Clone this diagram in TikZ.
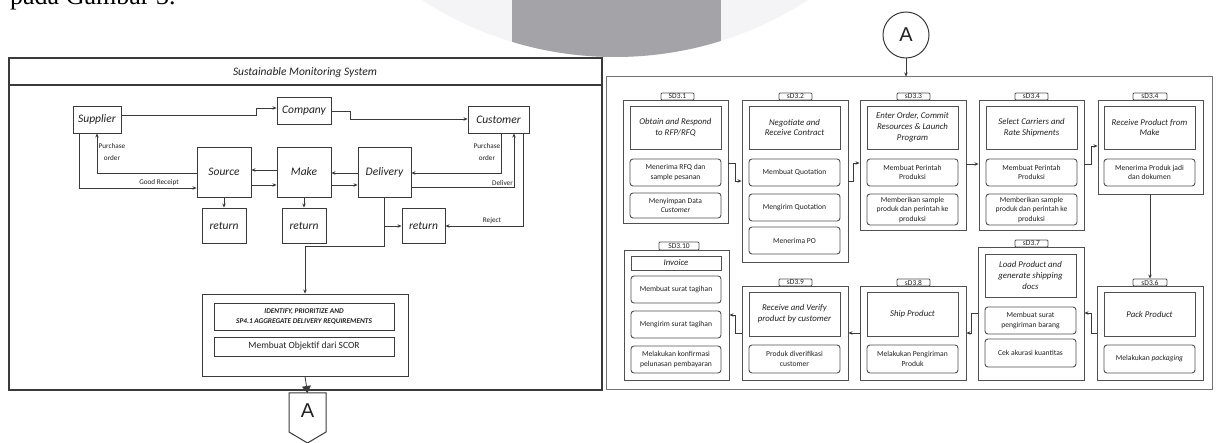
\documentclass[tikz,border=0pt]{standalone}
\usepackage{fontspec}
\setmainfont{Carlito}
\newfontfamily\serifA{Liberation Serif}
\newfontfamily\sansA{Liberation Sans}
\usetikzlibrary{arrows.meta}
\definecolor{lc}{HTML}{3A3A3A}
\definecolor{lc2}{HTML}{505050}
\definecolor{tc}{HTML}{222222}
\definecolor{wmA}{HTML}{F4F4F6}
\definecolor{wmB}{HTML}{A3A3A8}
\newcommand\bx[7]{\node[#6, minimum width={(#4-#2)*1pt}, minimum height={(#5-#3)*1pt}] (#1) at ({(#2+#4)/2},{(#3+#5)/2}) {#7};}
\begin{document}
\begin{tikzpicture}[x=1pt,y=-1pt,
  frame/.style={draw=lc, line width=1.1pt, inner sep=0pt},
  rframe/.style={draw=lc2!80, line width=1pt, inner sep=0pt},
  mbox/.style={draw=lc, line width=0.9pt, fill=white, inner sep=1pt, text=tc, font=\fontsize{11.5}{13}\selectfont\itshape},
  plainbox/.style={draw=lc, line width=0.9pt, inner sep=0pt},
  ibox/.style={draw=lc, line width=0.9pt, inner sep=1pt, text=tc, align=center, font=\fontsize{7.3}{9.5}\selectfont\bfseries\itshape},
  ibox2/.style={draw=lc, line width=0.9pt, inner sep=1pt, text=tc, font=\fontsize{9.5}{10}\selectfont},
  lab/.style={font=\fontsize{7.2}{11.5}\selectfont, text=tc, inner sep=0pt, align=center},
  conn/.style={draw=lc, line width=0.8pt},
  arr/.style={conn, -{Stealth[length=4pt,width=3.5pt]}},
  grp/.style={draw=lc2, line width=0.9pt, fill=white, inner sep=0pt},
  ttl/.style={draw=lc2, line width=0.9pt, inner sep=1pt, text=tc, align=center, font=\fontsize{8.8}{10.8}\selectfont\itshape},
  sub/.style={draw=lc2, line width=0.9pt, rounded corners=3pt, inner sep=1pt, text=tc, align=center, font=\fontsize{7.6}{9.5}\selectfont},
  tabl/.style={draw=lc2, line width=0.8pt, rounded corners=1pt, fill=white, inner sep=0pt, text=tc, font=\fontsize{7.5}{7}\selectfont},
  bigletter/.style={text=tc, inner sep=0pt, font=\sansA\fontsize{20}{20}\selectfont}]

\useasboundingbox (0,0) rectangle (1216,443);
\clip (0,0) rectangle (1216,443);
\fill[white] (0,0) rectangle (1216,443);

% watermark
\begin{scope}
  \fill[wmA] (615,-298) circle[radius=355];
  \clip (615,-298) circle[radius=355];
  \fill[wmB] (512,-5) rectangle (721,70);
\end{scope}

\node[anchor=base west, inner sep=0pt, font=\serifA\fontsize{26}{26}\selectfont] (topt) at (10,4.5) {pada Gambar 3.};

% ================= LEFT PANEL =================
\bx{lp}{9}{58}{602}{390}{frame}{}
\draw[lc, line width=1.6pt] (lp.west |- 0,85) -- (lp.east |- 0,85);
\node[text=tc, font=\fontsize{11.5}{13}\selectfont\itshape] (ttl) at (305,72) {Sustainable Monitoring System};

\bx{sup}{73}{106}{121}{133}{mbox}{Supplier}
\bx{com}{277}{97}{331}{124}{mbox}{Company}
\bx{cus}{468}{106}{529}{133}{mbox}{Customer}
\bx{src}{197}{147}{251}{197}{mbox}{Source}
\bx{mak}{277}{147}{331}{197}{mbox}{Make}
\bx{del}{358}{147}{411}{197}{mbox}{Delivery}
\bx{ra}{202}{208}{246}{243}{mbox}{return}
\bx{rb}{282}{208}{326}{243}{mbox}{return}
\bx{rc}{402}{208}{445}{243}{mbox}{return}

\draw[arr] (sup.east |- 0,115) -- ++(135,0) |- (com.west |- 0,108);
\draw[arr] (com.east |- 0,111) -- ++(19,0) |- (cus.west |- 0,119);
\draw[arr] (src.west |- 0,173) -| (sup.south -| 97,0);
\node[lab] (po1) at (112,152) {Purchase\\order};
\draw[arr] (sup.south -| 79,0) |- (src.west |- 0,188);
\node[lab] (gr) at (159,183) {Good Receipt};
\draw[arr] (mak.west |- 0,170) -- (src.east |- 0,170);
\draw[arr] (src.east |- 0,185) -- (mak.west |- 0,185);
\draw[arr] (del.west |- 0,173) -- (mak.east |- 0,173);
\draw[arr] (mak.east |- 0,185) -- (del.west |- 0,185);
\draw[arr] (cus.south -| 501,0) |- (del.east |- 0,173);
\node[lab] (po2) at (487,152) {Purchase\\order};
\draw[arr] (del.east |- 0,187) -| (cus.south -| 514,0);
\node[lab, anchor=south east] (dlv) at (513,186) {Deliver};
\draw[arr] (cus.south -| 523,0) |- (rc.east |- 0,226);
\node[lab] (rej) at (492,221) {Reject};
\draw[arr] (src.south -| 224,0) -- (ra.north -| 224,0);
\draw[arr] (mak.south -| 304,0) -- (rb.north -| 304,0);
\draw[arr] (del.south -| 384,0) |- (rc.west |- 0,226);

\bx{idf}{202}{294}{408}{376}{plainbox}{}
\bx{idfa}{214}{303}{394}{330}{ibox}{IDENTIFY, PRIORITIZE AND\\SP4.1 AGGREGATE DELIVERY REQUIREMENTS}
\bx{idfb}{214}{337}{394}{356}{ibox2}{Membuat Objektif dari SCOR}
\draw[arr] (del.south -| 384,0) -- (384,246) -| (idf.north);

\node[bigletter] (offA) at (307.5,411) {A};
\draw[lc, line width=1pt, line join=miter] (289,393) -- (289,432) -- (307.5,443) -- (326,432) -- (326,393) -- cycle;
\draw[conn, -{Triangle[length=7pt,width=9pt]}] (idf.south) -- (offA.center |- 0,393);

% ================= RIGHT PANEL =================
\bx{rp}{606}{77}{1212}{390}{rframe}{}
\node[circle, draw=lc, line width=1pt, minimum size=46pt, bigletter] (cA) at (906,35) {A};
\draw[arr] (cA.south) -- (rp.north -| cA.south);

% SD3.1
\bx{g1}{623}{100}{728}{223}{grp}{}
\bx{t1}{661}{93}{694}{100}{tabl}{SD3.1}
\bx{h1}{630}{106}{721}{149}{ttl}{Obtain and Respond\\to RFP/RFQ}
\bx{s1a}{630}{159}{721}{186}{sub}{Menerima RFQ dan\\sample pesanan}
\bx{s1b}{630}{193}{721}{218}{sub}{Menyimpan Data\\\textit{Customer}}
% sD3.2
\bx{g2}{742}{100}{848}{262}{grp}{}
\bx{t2}{779}{93}{812}{100}{tabl}{sD3.2}
\bx{h2}{749}{106}{840}{149}{ttl}{Negotiate and\\Receive Contract}
\bx{s2a}{749}{159}{840}{186}{sub}{Membuat Quotation}
\bx{s2b}{749}{194}{840}{221}{sub}{Mengirim Quotation}
\bx{s2c}{749}{227}{840}{254}{sub}{Menerima PO}
% sD3.3
\bx{g3}{860}{100}{966}{230}{grp}{}
\bx{t3}{897}{93}{930}{100}{tabl}{sD3.3}
\bx{h3}{867}{106}{958}{149}{ttl}{Enter Order, Commit\\Resources \& Launch\\Program}
\bx{s3a}{867}{159}{958}{186}{sub}{Membuat Perintah\\Produksi}
\bx{s3b}{867}{194}{958}{225}{sub}{Memberikan sample\\produk dan perintah ke\\produksi}
% sD3.4
\bx{g4}{979}{100}{1084}{230}{grp}{}
\bx{t4}{1015}{93}{1048}{100}{tabl}{sD3.4}
\bx{h4}{986}{106}{1077}{149}{ttl}{Select Carriers and\\Rate Shipments}
\bx{s4a}{986}{159}{1077}{186}{sub}{Membuat Perintah\\Produksi}
\bx{s4b}{986}{194}{1077}{225}{sub}{Memberikan sample\\produk dan perintah ke\\produksi}
% sD3.4 (b)
\bx{g5}{1098}{100}{1203}{194}{grp}{}
\bx{t5}{1133}{93}{1167}{100}{tabl}{sD3.4}
\bx{h5}{1104}{106}{1195}{149}{ttl}{Receive Product from\\Make}
\bx{s5a}{1104}{159}{1195}{186}{sub}{Menerima Produk jadi\\dan dokumen}
% SD3.10
\bx{g10}{624}{250}{729}{380}{grp}{}
\bx{t10}{659}{242}{699}{250}{tabl}{SD3.10}
\bx{h10}{631}{256}{721}{270}{ttl}{Invoice}
\bx{s10a}{631}{276}{721}{303}{sub}{Membuat surat tagihan}
\bx{s10b}{631}{311}{721}{338}{sub}{Mengirim surat tagihan}
\bx{s10c}{631}{346}{721}{373}{sub}{Melakukan konfirmasi\\pelunasan pembayaran}
% sD3.9
\bx{g9}{742}{286}{848}{380}{grp}{}
\bx{t9}{779}{279}{812}{286}{tabl}{sD3.9}
\bx{h9}{749}{292}{840}{336}{ttl}{Receive and Verify\\product by customer}
\bx{s9a}{749}{345}{840}{373}{sub}{Produk diverifikasi\\customer}
% sD3.8
\bx{g8}{860}{286}{966}{380}{grp}{}
\bx{t8}{897}{279}{930}{286}{tabl}{sD3.8}
\bx{h8}{867}{292}{958}{336}{ttl}{Ship Product}
\bx{s8a}{867}{345}{958}{373}{sub}{Melakukan Pengiriman\\Produk}
% sD3.7
\bx{g7}{978}{247}{1084}{380}{grp}{}
\bx{t7}{1015}{240}{1048}{247}{tabl}{sD3.7}
\bx{h7}{985}{254}{1076}{297}{ttl}{Load Product and\\generate shipping\\docs}
\bx{s7a}{985}{307}{1076}{334}{sub}{Membuat surat\\pengiriman barang}
\bx{s7b}{985}{339}{1076}{367}{sub}{Cek akurasi kuantitas}
% sD3.6
\bx{g6}{1097}{286}{1203}{380}{grp}{}
\bx{t6}{1133}{279}{1167}{286}{tabl}{sD3.6}
\bx{h6}{1104}{292}{1195}{336}{ttl}{Pack Product}
\bx{s6a}{1104}{345}{1195}{373}{sub}{Melakukan \textit{packaging}}

% arrows right panel
\draw[arr] (g1.east |- 0,163) -- ++(7,0) |- (g2.west |- 0,181);
\draw[arr] (g2.east |- 0,181) -- ++(5,0) |- (g3.west |- 0,163);
\draw[arr] (g3.east |- 0,164) -- (g4.west |- 0,164);
\draw[arr] (g4.east |- 0,164) -- ++(7,0) |- (g5.west |- 0,146);
\draw[arr] (g5.south -| 1150,0) -- (t6.north -| 1150,0);
\draw[arr] (g6.west |- 0,333) -- ++(-5,0) |- (g7.east |- 0,313);
\draw[arr] (g7.west |- 0,313) -- ++(-6,0) |- (g8.east |- 0,333);
\draw[arr] (g8.west |- 0,333) -- (g9.east |- 0,333);
\draw[arr] (g9.west |- 0,333) -- ++(-6,0) |- (g10.east |- 0,315);
\end{tikzpicture}
\end{document}
